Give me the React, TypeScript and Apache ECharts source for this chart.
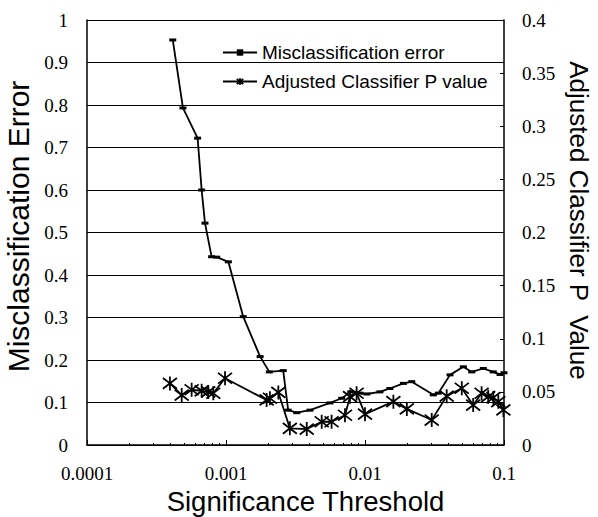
import React, { useEffect, useRef } from "react";
import * as echarts from "echarts";

const xTickLabels = ["0.0001", "0.001", "0.01", "0.1"];

const errThresholds = [
  0.000414, 0.00049, 0.000625, 0.000668, 0.000706, 0.000788, 0.000857, 0.00104,
  0.00133, 0.00176, 0.00205, 0.00258, 0.0028, 0.00323, 0.00402, 0.0056, 0.0068,
  0.0079, 0.0092, 0.0103, 0.0128, 0.0151, 0.0189, 0.0217, 0.031, 0.0337, 0.0409,
  0.051, 0.0586, 0.071, 0.0837, 0.0936, 0.1,
];
const errValues = [
  0.953, 0.793, 0.722, 0.6, 0.522, 0.443, 0.442, 0.431, 0.302, 0.208, 0.172,
  0.175, 0.082, 0.076, 0.082, 0.099, 0.11, 0.125, 0.122, 0.12, 0.125, 0.133,
  0.145, 0.149, 0.118, 0.122, 0.165, 0.184, 0.172, 0.18, 0.172, 0.166, 0.17,
];

const pThresholds = [
  0.000395, 0.00048, 0.000566, 0.000668, 0.000746, 0.00081, 0.000984, 0.00196,
  0.00207, 0.00238, 0.00288, 0.00381, 0.00488, 0.00575, 0.00718, 0.0078, 0.0087,
  0.01, 0.016, 0.02, 0.0302, 0.0387, 0.0497, 0.06, 0.069, 0.077, 0.0838, 0.091,
  0.099,
];
const pValues = [
  0.058, 0.047, 0.052, 0.051, 0.05, 0.0487, 0.0628, 0.0424, 0.044, 0.0495,
  0.0157, 0.015, 0.0219, 0.0219, 0.028, 0.0455, 0.0487, 0.029, 0.0408, 0.034,
  0.0235, 0.046, 0.0534, 0.0376, 0.0487, 0.0455, 0.0445, 0.0408, 0.033,
];

const ASTERISK = "path://M0,0L10,10M10,0L0,10M5,-1.5L5,11.5";

export default function App() {
  const ref = useRef<HTMLDivElement>(null);
  useEffect(() => {
    document.body.style.margin = "0";
    if (!ref.current) return;
    const chart = echarts.init(ref.current, null, { renderer: "svg" });
    const serif = "'Liberation Serif', 'Times New Roman', Tinos, 'DejaVu Serif', serif";
    const sans = "'Liberation Sans', Arial, sans-serif";
    chart.setOption({
      animation: false,
      backgroundColor: "#fff",
      grid: {
        left: 87,
        right: 94,
        top: 20,
        bottom: 72,
        containLabel: false,
        outerBoundsMode: "none",
      },
      legend: {
        orient: "vertical",
        left: 217,
        top: 38,
        itemWidth: 34,
        itemHeight: 8,
        itemGap: 10,
        textStyle: { fontFamily: sans, fontSize: 19, color: "#000" },
        data: ["Misclassification error", "Adjusted Classifier P value"],
      },
      xAxis: {
        type: "log",
        logBase: 10,
        min: 0.0001,
        max: 0.1,
        name: "Significance Threshold",
        nameLocation: "middle",
        nameGap: 40,
        nameTextStyle: {
          fontFamily: sans,
          fontSize: 27.5,
          color: "#000",
          padding: [0, 0, 0, 20],
        },
        axisLine: { lineStyle: { color: "#000", width: 1.5 } },
        axisTick: { show: true, inside: true, length: 5, lineStyle: { color: "#000" } },
        minorTick: { show: true, splitNumber: 9, length: 2, lineStyle: { color: "#000" } },
        axisLabel: {
          fontFamily: serif,
          fontSize: 19,
          color: "#000",
          margin: 19,
          formatter: (v: number) => {
            const i = Math.round(Math.log10(v)) + 4;
            return xTickLabels[i] ?? String(v);
          },
        },
        splitLine: { show: false },
      },
      yAxis: [
        {
          type: "value",
          min: 0,
          max: 1,
          interval: 0.1,
          name: "Misclassification Error",
          nameLocation: "middle",
          nameRotate: 90,
          nameGap: 50,
          nameTextStyle: {
            fontFamily: sans,
            fontSize: 30,
            color: "#000",
            padding: [0, 0, 0, 12],
          },
          axisLine: { show: true, lineStyle: { color: "#000", width: 1.5 } },
          axisTick: { show: false },
          axisLabel: { fontFamily: serif, fontSize: 19, color: "#000", margin: 19 },
          splitLine: { show: true, lineStyle: { color: "#000", width: 1.2 } },
        },
        {
          type: "value",
          min: 0,
          max: 0.4,
          interval: 0.05,
          position: "right",
          name: "Adjusted Classifier P  Value",
          nameLocation: "middle",
          nameRotate: -90,
          nameGap: 58,
          nameTextStyle: {
            fontFamily: sans,
            fontSize: 26,
            color: "#000",
            padding: [0, 24, 0, 0],
          },
          axisLine: { show: true, lineStyle: { color: "#000", width: 1.5 } },
          axisTick: { show: true, inside: true, length: 4, lineStyle: { color: "#000" } },
          axisLabel: { fontFamily: serif, fontSize: 19, color: "#000", margin: 18 },
          splitLine: { show: false },
        },
      ],
      series: [
        {
          name: "Misclassification error",
          type: "line",
          yAxisIndex: 0,
          data: errThresholds.map((x, i) => [x, errValues[i]]),
          symbol: "rect",
          symbolSize: [7, 3],
          lineStyle: { color: "#000", width: 1.8 },
          itemStyle: { color: "#000" },
        },
        {
          name: "Adjusted Classifier P value",
          type: "line",
          yAxisIndex: 1,
          data: pThresholds.map((x, i) => [x, pValues[i]]),
          symbol: ASTERISK,
          symbolSize: 14,
          lineStyle: { color: "#000", width: 1.8 },
          itemStyle: { color: "rgba(0,0,0,0)", borderColor: "#000", borderWidth: 1.8 },
        },
      ],
    });
    return () => chart.dispose();
  }, []);
  return <div ref={ref} style={{ width: 598, height: 517 }} />;
}
